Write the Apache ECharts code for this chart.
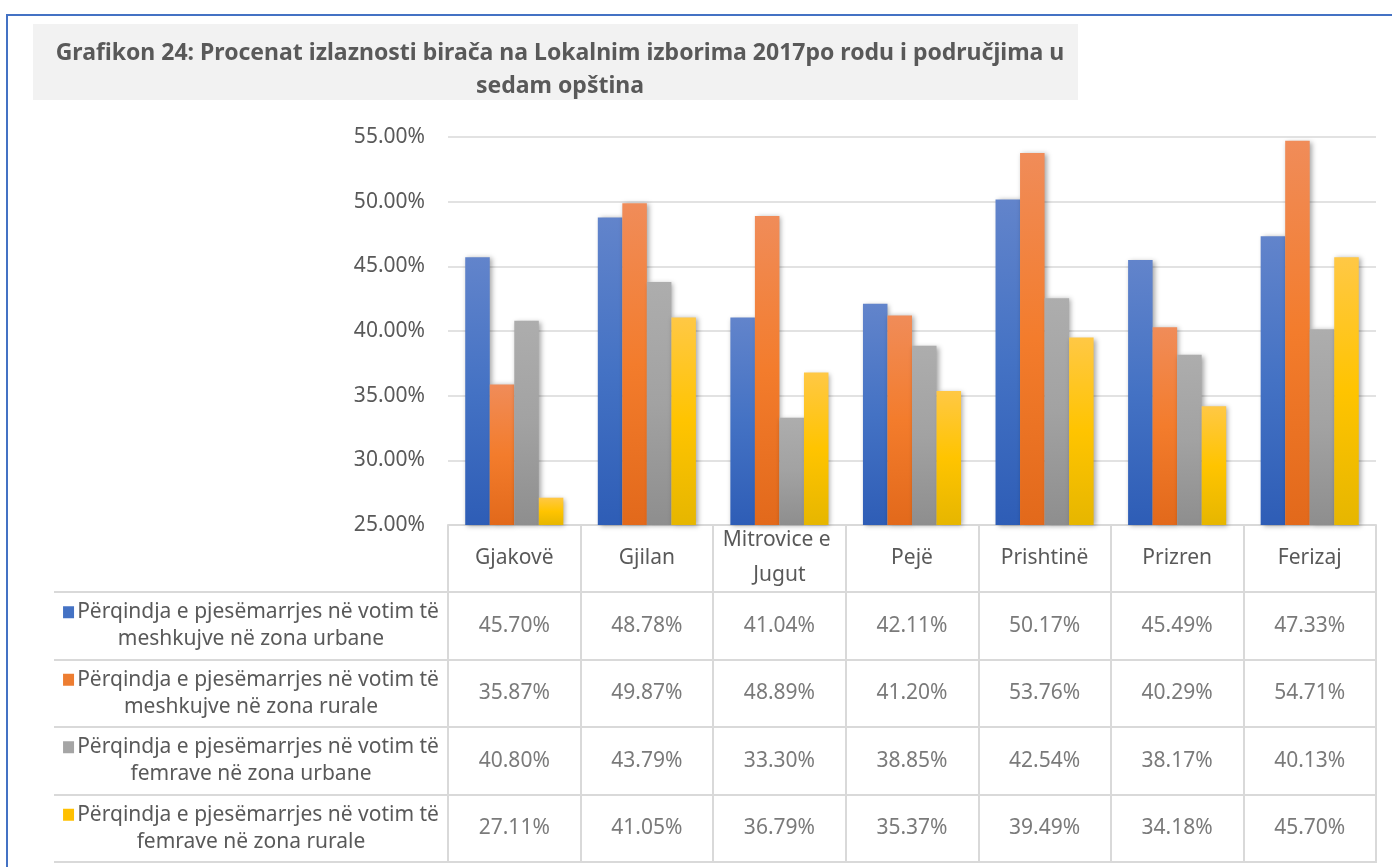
<!DOCTYPE html>
<html>
<head>
<meta charset="utf-8">
<script src="https://cdn.jsdelivr.net/npm/echarts@6/dist/echarts.min.js"></script>
<style>
  html, body { margin: 0; padding: 0; background: #fff; }
  #chart { width: 1392px; height: 867px; }
</style>
</head>
<body>
<div id="chart"></div>
<script>
// chart data
const categories = ['Gjakovë', 'Gjilan', 'Mitrovice e Jugut', 'Pejë', 'Prishtinë', 'Prizren', 'Ferizaj'];
const seriesNames = [
  'Përqindja e pjesëmarrjes në votim të meshkujve në zona urbane',
  'Përqindja e pjesëmarrjes në votim të meshkujve në zona rurale',
  'Përqindja e pjesëmarrjes në votim të femrave në zona urbane',
  'Përqindja e pjesëmarrjes në votim të femrave në zona rurale'
];
const maleUrban   = [45.70, 48.78, 41.04, 42.11, 50.17, 45.49, 47.33];
const maleRural   = [35.87, 49.87, 48.89, 41.20, 53.76, 40.29, 54.71];
const femaleUrban = [40.80, 43.79, 33.30, 38.85, 42.54, 38.17, 40.13];
const femaleRural = [27.11, 41.05, 36.79, 35.37, 39.49, 34.18, 45.70];
const yTicks = [25, 30, 35, 40, 45, 50, 55];
const titleText = 'Grafikon 24: Procenat izlaznosti birača na Lokalnim izborima 2017po rodu i područjima u\nsedam opština';

const allValues = [maleUrban, maleRural, femaleUrban, femaleRural];
const baseColors = ['#4472C4', '#ED7D31', '#A5A5A5', '#FFC000'];
const gradStops = [
  ['#6284CB', '#4472C4', '#2E5DB6'],
  ['#F08C59', '#F37C2C', '#E2691B'],
  ['#ADADAD', '#A2A2A2', '#8E8E8E'],
  ['#FFC845', '#FFC400', '#E6B600']
];
const FONT = '"Noto Sans", sans-serif';
const TXT = '#595959';
const LINE = '#D9D9D9';

let chart = echarts.init(document.getElementById('chart'));

const barSeries = allValues.map((vals, i) => ({
  name: seriesNames[i],
  type: 'bar',
  xAxisIndex: 0,
  yAxisIndex: 0,
  barGap: '0%',
  barCategoryGap: '26%',
  data: vals,
  itemStyle: {
    color: new echarts.graphic.LinearGradient(0, 0, 0, 1, [
      { offset: 0, color: gradStops[i][0] },
      { offset: 0.5, color: gradStops[i][1] },
      { offset: 1, color: gradStops[i][2] }
    ]),
    shadowBlur: 5,
    shadowColor: 'rgba(0,0,0,0.35)',
    shadowOffsetX: 2,
    shadowOffsetY: 1
  }
}));

const cellSeries = allValues.map((vals, i) => ({
  name: seriesNames[i] + ' (tabela)',
  type: 'scatter',
  xAxisIndex: 1,
  yAxisIndex: 1,
  symbolSize: 1,
  itemStyle: { color: 'rgba(0,0,0,0)' },
  silent: true,
  data: vals.map((v, j) => [categories[j], seriesNames[i], v]),
  label: {
    show: true,
    position: 'inside',
    formatter: p => p.value[2].toFixed(2) + '%',
    color: TXT,
    fontFamily: FONT,
    fontSize: 21
  }
}));

const markerRich = {};
baseColors.forEach((c, i) => {
  markerRich['m' + i] = { width: 11, height: 12, backgroundColor: c };
});
markerRich.t = { color: TXT, fontFamily: FONT, fontSize: 21, lineHeight: 27 };

chart.setOption({
  animation: false,
  textStyle: { fontFamily: FONT },
  title: {
    text: titleText,
    left: 555,
    top: 32,
    textAlign: 'center',
    textStyle: { fontFamily: FONT, fontWeight: 'bold', fontSize: 23, color: TXT, lineHeight: 33 }
  },
  graphic: [
    { type: 'rect', z: -10, shape: { x: 33, y: 24, width: 1045, height: 76 }, style: { fill: '#F2F2F2' } },
    { type: 'line', shape: { x1: 6, y1: 15, x2: 1392, y2: 15 }, style: { stroke: '#4472C4', lineWidth: 2 } },
    { type: 'line', shape: { x1: 7, y1: 15, x2: 7, y2: 867 }, style: { stroke: '#4472C4', lineWidth: 2 } }
  ],
  grid: [
    { left: 448, right: 16, top: 137, height: 388 },
    { left: 448, right: 16, top: 592, bottom: 5, show: true, borderColor: LINE, borderWidth: 2, backgroundColor: '#fff' }
  ],
  xAxis: [
    {
      type: 'category',
      gridIndex: 0,
      data: categories,
      axisLine: { lineStyle: { color: LINE, width: 2 } },
      axisTick: { show: true, length: 67, alignWithLabel: false, lineStyle: { color: LINE, width: 2 } },
      axisLabel: {
        color: TXT, fontFamily: FONT, fontSize: 21, margin: 33,
        verticalAlign: 'middle', width: 125, overflow: 'break', lineHeight: 35, interval: 0
      }
    },
    {
      type: 'category',
      gridIndex: 1,
      data: categories,
      axisLine: { show: false },
      axisTick: { show: false },
      axisLabel: { show: false },
      splitLine: { show: true, interval: 0, lineStyle: { color: LINE, width: 2 } }
    }
  ],
  yAxis: [
    {
      type: 'value',
      gridIndex: 0,
      min: yTicks[0],
      max: yTicks[yTicks.length - 1],
      interval: yTicks[1] - yTicks[0],
      axisLine: { show: false },
      axisTick: { show: false },
      axisLabel: { color: TXT, fontFamily: FONT, fontSize: 21, margin: 23, formatter: v => v.toFixed(2) + '%' },
      splitLine: { lineStyle: { color: LINE, width: 1.5 } }
    },
    {
      type: 'category',
      gridIndex: 1,
      inverse: true,
      data: seriesNames,
      axisLine: { show: false },
      axisTick: { show: true, length: 394, alignWithLabel: false, lineStyle: { color: LINE, width: 2 } },
      splitLine: { show: true, interval: 0, lineStyle: { color: LINE, width: 2 } },
      axisLabel: {
        interval: 0,
        margin: 197,
        align: 'center',
        formatter: (v, idx) => {
          const parts = v.replace(' të ', ' të\n').split('\n');
          return '{m' + idx + '|} {t|' + parts[0] + '}\n{t|' + parts[1] + '}';
        },
        rich: markerRich
      }
    },
    {
      type: 'category',
      gridIndex: 1,
      inverse: true,
      data: seriesNames,
      offset: 394,
      axisLine: { show: true, lineStyle: { color: LINE, width: 2 } },
      axisTick: { show: false },
      axisLabel: { show: false }
    }
  ],
  series: barSeries.concat(cellSeries)
});
</script>
</body>
</html>
